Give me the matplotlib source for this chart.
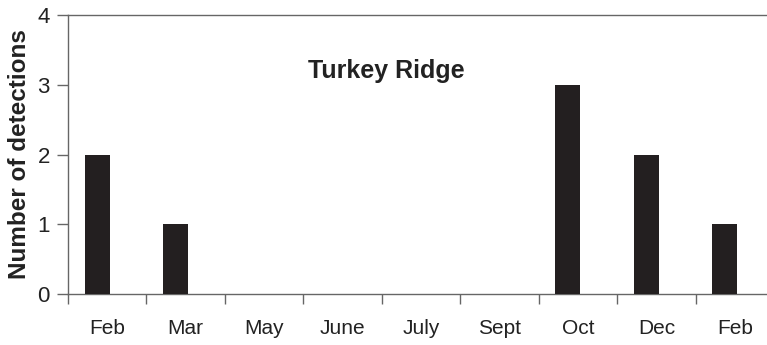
import matplotlib.pyplot as plt
import numpy as np

plt.rcParams['font.family'] = ['Liberation Sans', 'DejaVu Sans']

months = ['Feb', 'Mar', 'May', 'June', 'July', 'Sept', 'Oct', 'Dec', 'Feb']
detections = [2, 1, 0, 0, 0, 0, 3, 2, 1]

fig = plt.figure(figsize=(7.67, 3.45), dpi=100)
# axes runs a little past the right edge of the figure
ax = fig.add_axes([0.0887, 0.1478, 0.9205, 0.8087])

x = np.arange(len(months))
ax.bar(x - 0.13, detections, width=0.32, color='#231f20', zorder=3)

ax.set_xlim(-0.5, len(months) - 0.5)
ax.set_ylim(0, 4)
ax.set_yticks([0, 1, 2, 3, 4])
ax.tick_params(axis='y', labelsize=16, length=8, width=1, color='#666666', pad=5,
               labelcolor='#222222')

# labels centred on categories, tick marks on the boundaries
ax.set_xticks(x)
ax.set_xticklabels(months)
ax.tick_params(axis='x', which='major', length=0, labelsize=15, pad=18, labelcolor='#222222')
ax.set_xticks(np.arange(len(months)) - 0.5, minor=True)
ax.tick_params(axis='x', which='minor', length=7, width=1, color='#666666')

for side in ['left', 'top', 'bottom', 'right']:
    ax.spines[side].set_color('#666666')
    ax.spines[side].set_linewidth(1.0)

ax.set_ylabel('Number of detections', fontsize=17.5, fontweight='bold', labelpad=5,
              color='#222222')
ax.text(3.56, 3.2, 'Turkey Ridge', fontsize=18, fontweight='bold', ha='center', va='center',
        color='#222222')

fig.savefig('out.png', dpi=100)
